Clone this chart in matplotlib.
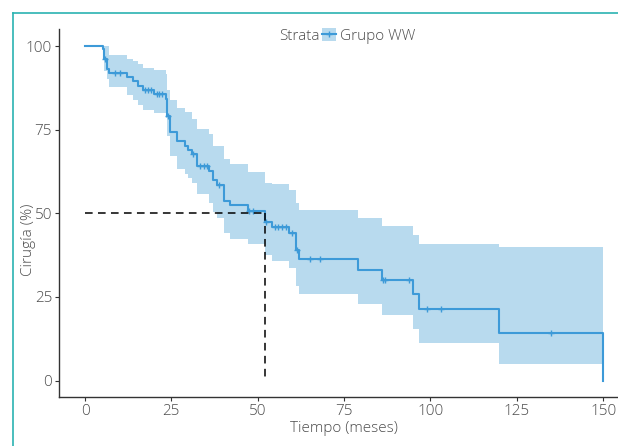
import matplotlib
matplotlib.use("Agg")
import matplotlib.pyplot as plt
from matplotlib.patches import Patch
from matplotlib.lines import Line2D

# ---- data ----
times = [0, 5.1, 5.6, 6.3, 7.0, 12.1, 13.8, 15.2, 16.9, 20.1, 23.5, 23.8, 24.6,
         26.7, 29.0, 29.9, 30.9, 32.3, 36.0, 37.0, 38.1, 40.1, 42.0, 47.3,
         52.1, 54.0, 59.1, 61.0, 62.0, 79.0, 85.9, 94.9, 96.8, 119.9]
surv = [100, 99.0, 96.0, 93.2, 92.0, 90.8, 89.4, 88.0, 86.9, 85.7, 84.3, 79.2, 74.2,
        71.7, 70.2, 69.0, 67.7, 64.2, 62.7, 60.0, 58.5, 53.8, 52.4, 50.7,
        47.5, 46.0, 44.0, 38.9, 36.2, 33.1, 30.2, 25.8, 21.4, 14.2]
upper = [100, 100, 100, 100, 97.2, 96.2, 95.5, 94.5, 93.5, 92.7, 91.5, 87.0, 84.0,
         81.5, 80.2, 80.2, 78.2, 75.2, 73.7, 70.2, 70.2, 66.2, 64.7, 62.2,
         59.2, 58.8, 57.0, 53.2, 51.0, 48.6, 46.3, 43.6, 40.7, 39.9]
lower = [100, 97.0, 92.5, 90.0, 87.7, 85.5, 84.0, 82.5, 81.0, 80.0, 78.5, 73.0, 67.2,
         63.2, 61.7, 60.5, 59.2, 55.7, 53.2, 50.5, 48.7, 44.2, 42.3, 40.8,
         37.6, 35.8, 33.6, 28.3, 25.8, 22.8, 19.7, 15.3, 11.3, 5.0]
end_time = 149.9
end_surv = 0

censor_times = [5.9, 8.7, 10.1, 17.4, 18.3, 19.0, 20.8, 21.5, 22.2, 24.1, 31.4,
                33.3, 34.3, 35.2, 38.9, 47.5, 48.7, 52.4, 55.0, 56.0, 57.0, 58.2,
                59.8, 61.3, 65.0, 68.1, 86.2, 86.9, 93.9, 98.9, 103.0, 135.0]
censor_surv = [96.0, 92.0, 92.0, 86.9, 86.9, 86.9, 85.7, 85.7, 85.7, 79.2, 67.7,
               64.2, 64.2, 64.2, 58.5, 50.7, 50.7, 47.5, 46.0, 46.0, 46.0, 46.0,
               44.0, 38.9, 36.2, 36.2, 30.2, 30.2, 30.2, 21.4, 21.4, 14.2]
median_time = 52.1
median_level = 50

xticks = [0, 25, 50, 75, 100, 125, 150]
yticks = [0, 25, 50, 75, 100]
x_label = "Tiempo (meses)"
y_label = "Cirugía (%)"
legend_title = "Strata"
group_name = "Grupo WW"

# ---- styling ----
LINE = "#3d9ad8"
FILL = "#b8daee"
TEXT = "#4d4d4d"
FONT = ["Open Sans", "DejaVu Sans"]
plt.rcParams["font.family"] = FONT

W, H = 618, 446
fig = plt.figure(figsize=(W / 100, H / 100), dpi=100)
ax = fig.add_axes([59.1 / W, (H - 397.3) / H, 570 / W, 368 / H])

bt = times + [end_time]
ax.fill_between(bt, lower + [lower[-1]], upper + [upper[-1]], step="post",
                color=FILL, linewidth=0, zorder=1)
ax.step(times + [end_time], surv + [end_surv], where="post", color=LINE,
        linewidth=1.5, zorder=3)
ax.plot(censor_times, censor_surv, linestyle="none", marker="+", markersize=5,
        markeredgewidth=1.0, color=LINE, zorder=4)

ax.plot([0, median_time], [median_level, median_level], color="black",
        linestyle=(0, (5, 3.5)), linewidth=1.1, zorder=5)
ax.plot([median_time, median_time], [median_level, 0], color="black",
        linestyle=(0, (5, 3.5)), linewidth=1.1, zorder=5)

ax.set_xlim(-7.5, 157.5)
ax.set_ylim(-5, 105)
ax.set_xticks(xticks)
ax.set_yticks(yticks)
ax.spines["top"].set_visible(False)
ax.spines["right"].set_visible(False)
for s in ("left", "bottom"):
    ax.spines[s].set_color("#333333")
    ax.spines[s].set_linewidth(1.0)
ax.tick_params(length=3, width=0.8, color="#333333", labelcolor=TEXT,
               labelsize=11, pad=2)
for lab in ax.get_xticklabels() + ax.get_yticklabels():
    lab.set_fontweight("light")
ax.set_xlabel(x_label, fontsize=11, color=TEXT, fontweight="light", labelpad=1)
ax.set_ylabel(y_label, fontsize=11, color=TEXT, fontweight="light")
ax.yaxis.set_label_coords(28 / W, 0.5, transform=fig.transFigure)
ax.yaxis.label.set_va("center")
ax.yaxis.label.set_y((H - 240) / H)

# legend
fig.text(320 / W, 1 - 36 / H, legend_title, ha="right", va="center",
         fontsize=11, color=TEXT, fontweight="light")
handle = (Patch(facecolor=FILL, edgecolor="none"),
          Line2D([], [], color=LINE, marker="+", markersize=5, linewidth=1.5))
ax.legend(handles=[handle], labels=[group_name], loc="center left",
          bbox_to_anchor=(322 / W, 1 - 36 / H), bbox_transform=fig.transFigure,
          frameon=False, handlelength=0.9, handleheight=0.9, handletextpad=0.3,
          borderpad=0, borderaxespad=0, prop={"size": 11, "weight": "light"},
          labelcolor=TEXT)

# teal frame
TEAL = "#2bb3b1"
fig.add_artist(Line2D([12.7 / W, 12.7 / W], [0, 1 - 13 / H], color=TEAL,
                      linewidth=1.2, transform=fig.transFigure))
fig.add_artist(Line2D([12.7 / W, 1], [1 - 13 / H, 1 - 13 / H], color=TEAL,
                      linewidth=1.2, transform=fig.transFigure))

fig.savefig("out.png", dpi=100)
